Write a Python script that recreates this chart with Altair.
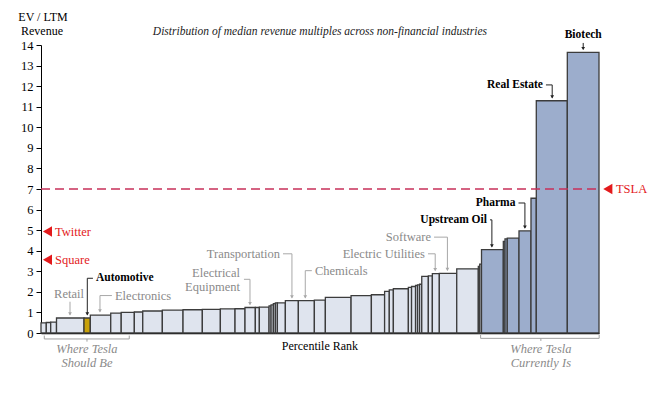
import altair as alt
import pandas as pd

# ---- data ----
# share of industries (percentile width) and median EV / LTM revenue multiple, per industry bar
widths = [0.95, 0.79, 1.04, 4.93, 1.13, 3.66, 1.88, 2.35, 1.51, 3.51,
          3.71, 3.46, 3.23, 2.63, 1.79, 1.85, 0.72, 1.74, 0.36, 0.41,
          0.36, 0.36, 1.43, 2.33, 2.87, 1.97, 4.61, 3.64, 2.37, 0.84,
          0.73, 2.69, 0.57, 0.72, 0.36, 0.36, 0.39, 1.18, 0.72, 1.25,
          3.12, 3.87, 0.25, 0.32, 3.91, 0.30, 0.41, 2.10, 2.15, 0.95,
          5.56, 5.68]
values = [0.49, 0.51, 0.53, 0.73, 0.73, 0.87, 0.97, 1.00, 1.02, 1.07,
          1.11, 1.13, 1.15, 1.17, 1.18, 1.24, 1.24, 1.26, 1.32, 1.37,
          1.43, 1.46, 1.46, 1.57, 1.57, 1.60, 1.73, 1.82, 1.86, 2.02,
          2.10, 2.15, 2.22, 2.26, 2.31, 2.34, 2.37, 2.75, 2.78, 2.89,
          2.90, 3.12, 3.24, 3.35, 4.05, 4.45, 4.58, 4.61, 4.96, 6.55,
          11.29, 13.64]
automotive_index = 4
currently_from = 44  # first bar of "Where Tesla Currently Is"

comparables = ["Twitter", "Square"]
comparable_values = [4.93, 3.56]
tsla_value = 7.0
y_ticks = list(range(15))

# labelled industries: name, label x (percentile), label y, arrow x, arrow tip y, align, bold
labels = [
    ("Retail", 5.02, 1.90, 5.2, 0.81, "center", False),
    ("Automotive", 9.86, 2.66, 8.30, 0.81, "left", True),
    ("Electronics", 13.26, 1.82, 10.57, 0.96, "left", False),
    ("Transportation", 42.83, 3.85, 44.98, 1.64, "right", False),
    ("Chemicals", 49.1, 3.03, 47.37, 1.64, "left", False),
    ("Electric Utilities", 68.82, 3.85, 70.66, 2.96, "right", False),
    ("Software", 69.9, 4.66, 72.85, 2.97, "right", False),
    ("Upstream Oil", 79.93, 5.50, 80.82, 4.12, "right", True),
    ("Pharma", 85.04, 6.32, 86.74, 5.03, "right", True),
    ("Real Estate", 89.96, 12.06, 91.63, 11.36, "right", True),
    ("Biotech", 97.19, 14.48, 97.19, 13.71, "center", True),
]

SERIF = "Liberation Serif"
GRAY = "#8a8a8a"
LINE_GRAY = "#a8a8a8"
RED = "#e31a1c"

# ---- bars ----
rows = []
start = 0.0
for i, (w, v) in enumerate(zip(widths, values)):
    if i == automotive_index:
        fill = "#c9a20a"
    elif i >= currently_from:
        fill = "#9cadcc"
    else:
        fill = "#dfe4ee"
    rows.append({"x0": start, "x1": start + w, "v": v, "fill": fill})
    start += w
bars_df = pd.DataFrame(rows)
total = start

xs = alt.Scale(domain=[0, total], nice=False, zero=False)
ys = alt.Scale(domain=[0, 14], nice=False)

x_axis = alt.Axis(title=None, labels=False, ticks=False, grid=False,
                  domainColor="black", domainWidth=1.5)
y_axis = alt.Axis(title=None, values=y_ticks, grid=False, labelOverlap=False,
                  labelFlush=False, labelFont=SERIF, labelFontSize=12.5,
                  labelColor="black", tickColor="black", domainColor="black",
                  tickSize=5, labelPadding=3)


def X(f):
    return alt.X(f, scale=xs, axis=x_axis)


def Y(f):
    return alt.Y(f, scale=ys, axis=y_axis)


bars = alt.Chart(bars_df).mark_rect(stroke="#3c3c3c", strokeWidth=1.3).encode(
    x=X("x0:Q"), x2="x1:Q", y=Y("v:Q"), y2=alt.datum(0),
    fill=alt.Fill("fill:N", scale=None),
)

# ---- TSLA dashed line and markers ----
tsla_df = pd.DataFrame({"x0": [0], "x1": [total], "v": [tsla_value]})
tsla_line = alt.Chart(tsla_df).mark_rule(color="#c8305a", strokeDash=[9, 5], strokeWidth=1.5).encode(
    x=X("x0:Q"), x2="x1:Q", y=Y("v:Q"))

marker_df = pd.DataFrame({
    "name": comparables + ["TSLA"],
    "v": comparable_values + [tsla_value],
    "mx": [1.16, 1.16, 101.6],
    "tx": [2.51, 2.51, 103.05],
})
markers = alt.Chart(marker_df).mark_point(shape="triangle-left", filled=True, size=110,
                                          color=RED, opacity=1).encode(
    x=X("mx:Q"), y=Y("v:Q"))
marker_text = alt.Chart(marker_df).mark_text(align="left", baseline="middle", font=SERIF,
                                             fontSize=12.5, color=RED).encode(
    x=X("tx:Q"), y=Y("v:Q"), text="name:N")

# ---- industry labels with connectors ----
lab_rows, seg_rows, tip_rows = [], [], []
for name, lx, ly, ax, tip, align, bold in labels:
    color = "black" if bold else GRAY
    lcol = "#222222" if bold else LINE_GRAY
    lab_rows.append({"name": name, "x": lx, "y": ly, "align": align, "bold": bold, "color": color})
    if align == "right":
        seg_rows.append({"x": lx + 0.55, "x2": ax, "y": ly, "y2": ly, "c": lcol})
    elif align == "left":
        seg_rows.append({"x": ax, "x2": lx - 0.55, "y": ly, "y2": ly, "c": lcol})
    top = ly - 0.38 if align == "center" else ly
    seg_rows.append({"x": ax, "x2": ax, "y": top, "y2": tip + 0.08, "c": lcol})
    tip_rows.append({"x": ax, "y": tip + 0.12, "c": lcol})

# Electrical Equipment (two lines, right aligned)
ee_x, ee_ax, ee_tip = 35.66, 37.46, 1.31
lab_rows.append({"name": "Electrical", "x": ee_x, "y": 2.94, "align": "right", "bold": False, "color": GRAY})
lab_rows.append({"name": "Equipment", "x": ee_x, "y": 2.26, "align": "right", "bold": False, "color": GRAY})
seg_rows.append({"x": 36.38, "x2": ee_ax, "y": 2.61, "y2": 2.61, "c": LINE_GRAY})
seg_rows.append({"x": ee_ax, "x2": ee_ax, "y": 2.61, "y2": ee_tip + 0.08, "c": LINE_GRAY})
tip_rows.append({"x": ee_ax, "y": ee_tip + 0.12, "c": LINE_GRAY})

lab_df = pd.DataFrame(lab_rows)
seg_df = pd.DataFrame(seg_rows)
tip_df = pd.DataFrame(tip_rows)

segs = alt.Chart(seg_df).mark_rule(strokeWidth=1).encode(
    x=X("x:Q"), x2="x2:Q", y=Y("y:Q"), y2="y2:Q", color=alt.Color("c:N", scale=None))
tips = alt.Chart(tip_df).mark_point(shape="triangle-down", filled=True, size=14, opacity=1).encode(
    x=X("x:Q"), y=Y("y:Q"), color=alt.Color("c:N", scale=None))


def label_layer(align, bold):
    d = lab_df[(lab_df["align"] == align) & (lab_df["bold"] == bold)]
    return alt.Chart(d).mark_text(align=align, baseline="middle", font=SERIF,
                                  fontSize=11.5 if bold else 12.5,
                                  fontWeight="bold" if bold else "normal").encode(
        x=X("x:Q"), y=Y("y:Q"), text="name:N", color=alt.Color("color:N", scale=None))


label_layers = [label_layer(a, b) for a in ["left", "right", "center"] for b in [True, False]
                if len(lab_df[(lab_df["align"] == a) & (lab_df["bold"] == b)])]

# ---- brackets below the axis ----
br_rows = [
    {"x": 0.59, "x2": 15.82, "y": -0.29, "y2": -0.29},
    {"x": 0.59, "x2": 0.59, "y": -0.29, "y2": -0.125},
    {"x": 15.82, "x2": 15.82, "y": -0.29, "y2": -0.125},
    {"x": 8.24, "x2": 8.24, "y": -0.29, "y2": -0.42},
    {"x": 78.8, "x2": 100.05, "y": -0.26, "y2": -0.26},
    {"x": 78.8, "x2": 78.8, "y": -0.26, "y2": -0.094},
    {"x": 100.05, "x2": 100.05, "y": -0.26, "y2": -0.094},
    {"x": 89.6, "x2": 89.6, "y": -0.26, "y2": -0.385},
]
brackets = alt.Chart(pd.DataFrame(br_rows)).mark_rule(color="#a0a0a0", strokeWidth=1).encode(
    x=X("x:Q"), x2="x2:Q", y=Y("y:Q"), y2="y2:Q")

where_df = pd.DataFrame({
    "t": ["Where Tesla", "Should Be", "Where Tesla", "Currently Is"],
    "x": [8.24, 8.24, 89.6, 89.6],
    "y": [-0.78, -1.46, -0.78, -1.46],
})
where_text = alt.Chart(where_df).mark_text(font=SERIF, fontSize=12.5, fontStyle="italic",
                                           color="#8a8a8a", baseline="middle").encode(
    x=X("x:Q"), y=Y("y:Q"), text="t:N")

misc_df = pd.DataFrame({
    "t": ["Percentile Rank", "EV / LTM", "Revenue"],
    "x": [50.0, 0.36, 0.18],
    "y": [-0.61, 15.35, 14.67],
})
misc_text = alt.Chart(misc_df).mark_text(font=SERIF, fontSize=12, color="black",
                                         baseline="middle").encode(
    x=X("x:Q"), y=Y("y:Q"), text="t:N")

title_df = pd.DataFrame({"t": ["Distribution of median revenue multiples across non-financial industries"],
                         "x": [50.0], "y": [14.63]})
title_text = alt.Chart(title_df).mark_text(font=SERIF, fontSize=11.5, fontStyle="italic",
                                           color="#222222", baseline="middle").encode(
    x=X("x:Q"), y=Y("y:Q"), text="t:N")

chart = alt.layer(
    bars, tsla_line, brackets, segs, tips, markers, marker_text,
    *label_layers, where_text, misc_text, title_text,
).properties(
    width=558, height=288,
    autosize=alt.AutoSizeParams(type="none"),
    padding={"left": 33, "top": 37, "right": 50, "bottom": 50},
).configure_view(stroke=None)

chart.save("out.html", embed_options={"renderer": "svg", "actions": False})
